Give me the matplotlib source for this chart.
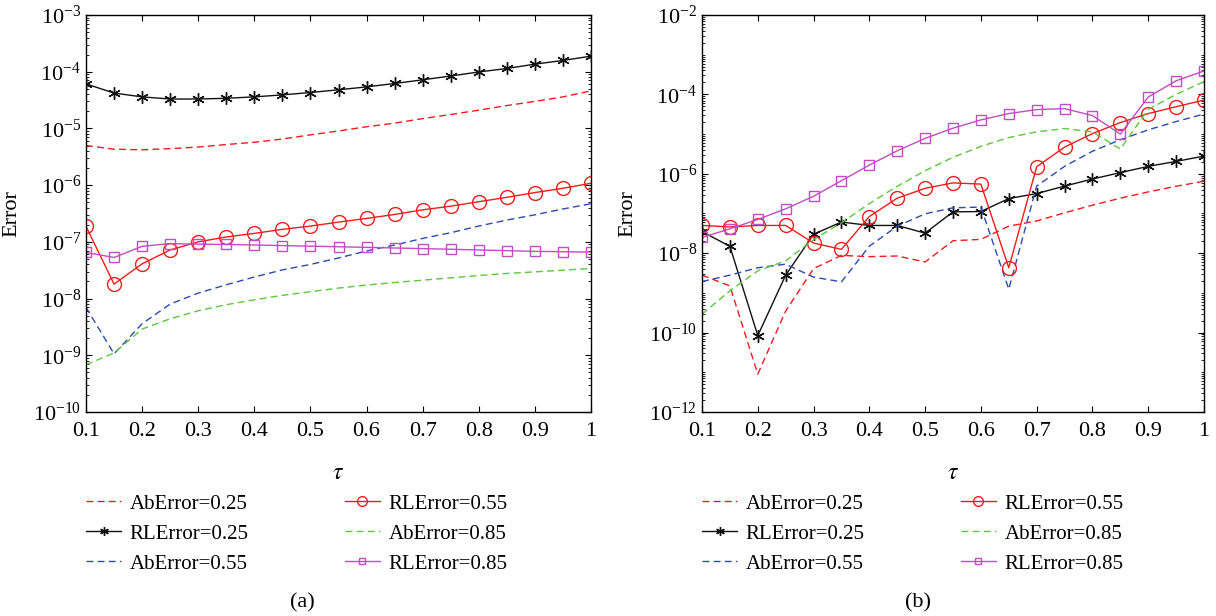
import numpy as np
import matplotlib
matplotlib.use("Agg")
import matplotlib.pyplot as plt
from matplotlib.ticker import LogLocator, NullFormatter

plt.rcParams['font.family'] = ['Liberation Serif', 'DejaVu Serif']
plt.rcParams['mathtext.fontset'] = 'stix'

tau = [0.1, 0.15, 0.2, 0.25, 0.3, 0.35, 0.4, 0.45, 0.5, 0.55,
       0.6, 0.65, 0.7, 0.75, 0.8, 0.85, 0.9, 0.95, 1.0]

# panel (a)
a_ab025 = [5.0e-6, 4.3e-6, 4.2e-6, 4.4e-6, 4.7e-6, 5.2e-6, 5.7e-6, 6.5e-6, 7.7e-6, 9.0e-6,
           1.07e-5, 1.24e-5, 1.49e-5, 1.76e-5, 2.1e-5, 2.53e-5, 3.0e-5, 3.6e-5, 4.6e-5]
a_rl025 = [6.1e-5, 4.2e-5, 3.6e-5, 3.3e-5, 3.3e-5, 3.4e-5, 3.6e-5, 3.9e-5, 4.3e-5, 4.8e-5,
           5.4e-5, 6.2e-5, 7.2e-5, 8.4e-5, 9.9e-5, 1.14e-4, 1.36e-4, 1.58e-4, 1.88e-4]
a_ab055 = [7.0e-9, 1.06e-9, 3.6e-9, 8.0e-9, 1.25e-8, 1.75e-8, 2.4e-8, 3.2e-8, 4.0e-8, 5.2e-8,
           6.9e-8, 8.8e-8, 1.15e-7, 1.45e-7, 1.9e-7, 2.42e-7, 3.0e-7, 3.8e-7, 4.7e-7]
a_rl055 = [1.88e-7, 1.8e-8, 4.1e-8, 7.2e-8, 1.0e-7, 1.22e-7, 1.41e-7, 1.66e-7, 1.9e-7, 2.23e-7,
           2.59e-7, 3.04e-7, 3.67e-7, 4.26e-7, 5.1e-7, 6.1e-7, 7.4e-7, 8.8e-7, 1.08e-6]
a_ab085 = [6.8e-10, 1.1e-9, 2.9e-9, 4.4e-9, 6.1e-9, 7.8e-9, 9.5e-9, 1.14e-8, 1.32e-8, 1.53e-8,
           1.73e-8, 1.92e-8, 2.11e-8, 2.32e-8, 2.55e-8, 2.77e-8, 2.96e-8, 3.16e-8, 3.4e-8]
a_rl085 = [6.5e-8, 5.3e-8, 8.35e-8, 9.3e-8, 9.1e-8, 9.0e-8, 8.8e-8, 8.6e-8, 8.4e-8, 8.2e-8,
           8.0e-8, 7.8e-8, 7.6e-8, 7.4e-8, 7.2e-8, 7.0e-8, 6.8e-8, 6.7e-8, 6.6e-8]

# panel (b)
b_ab025 = [2.8e-9, 1.5e-9, 9e-12, 3.5e-10, 4.1e-9, 8.8e-9, 8.2e-9, 8.5e-9, 6.0e-9, 2.06e-8,
           2.23e-8, 4.8e-8, 6.5e-8, 1.04e-7, 1.62e-7, 2.43e-7, 3.5e-7, 4.85e-7, 6.5e-7]
b_rl025 = [3.5e-8, 1.49e-8, 8.4e-11, 2.8e-9, 3.0e-8, 6.1e-8, 5.0e-8, 5.0e-8, 3.2e-8, 1.1e-7,
           1.12e-7, 2.38e-7, 3.18e-7, 4.9e-7, 7.4e-7, 1.07e-6, 1.54e-6, 2.05e-6, 2.8e-6]
b_ab055 = [1.93e-9, 2.8e-9, 4.3e-9, 5.3e-9, 2.5e-9, 1.9e-9, 1.5e-8, 4.8e-8, 9.8e-8, 1.39e-7,
           1.45e-7, 1.24e-9, 4.9e-7, 1.54e-6, 3.7e-6, 7.2e-6, 1.28e-5, 2.07e-5, 3.2e-5]
b_rl055 = [5.0e-8, 4.6e-8, 5.0e-8, 5.0e-8, 1.8e-8, 1.25e-8, 8.4e-8, 2.43e-7, 4.3e-7, 5.9e-7,
           5.5e-7, 4.3e-9, 1.51e-6, 4.7e-6, 1.03e-5, 1.95e-5, 3.29e-5, 4.9e-5, 7.2e-5]
b_ab085 = [2.9e-10, 1.13e-9, 3.6e-9, 6.4e-9, 2.2e-8, 5.8e-8, 1.78e-7, 4.85e-7, 1.2e-6, 2.6e-6,
           4.9e-6, 8.2e-6, 1.14e-5, 1.38e-5, 1.14e-5, 4.2e-6, 4.2e-5, 1.0e-4, 2.1e-4]
b_rl085 = [2.5e-8, 4.1e-8, 7.1e-8, 1.31e-7, 2.72e-7, 6.7e-7, 1.66e-6, 3.8e-6, 7.8e-6, 1.41e-5,
           2.28e-5, 3.29e-5, 4.14e-5, 4.39e-5, 2.93e-5, 1.0e-5, 8.6e-5, 2.2e-4, 3.9e-4]

labels = ['AbError=0.25', 'RLError=0.25', 'AbError=0.55',
          'RLError=0.55', 'AbError=0.85', 'RLError=0.85']

RED = '#f01c1c'
BLUE = '#2a4bb0'
GREEN = '#5cc83a'
MAG = '#c24cc2'
ASTER = (6, 2, 0)  # matlab-like asterisk


def draw(ax, ab025, rl025, ab055, rl055, ab085, rl085, ylim, major_step):
    dash = (5, 3)
    ax.plot(tau, ab025, color=RED, lw=1, dashes=dash)
    ax.plot(tau, rl025, color='#111111', lw=1, marker=ASTER, ms=9, mew=1)
    ax.plot(tau, ab055, color=BLUE, lw=1, dashes=dash)
    ax.plot(tau, rl055, color=RED, lw=1, marker='o', ms=10, mfc='none', mew=1)
    ax.plot(tau, ab085, color=GREEN, lw=1, dashes=dash)
    ax.plot(tau, rl085, color=MAG, lw=1, marker='s', ms=7, mfc='none', mew=1)
    ax.set_yscale('log')
    ax.set_xlim(0.1, 1.0)
    ax.set_ylim(*ylim)
    ax.set_xticks(np.arange(0.1, 1.01, 0.1))
    ax.set_xticklabels(['0.1', '0.2', '0.3', '0.4', '0.5', '0.6', '0.7', '0.8', '0.9', '1'])
    ax.yaxis.set_major_locator(LogLocator(base=10 ** major_step, numticks=20))
    if major_step == 1:
        ax.yaxis.set_minor_locator(LogLocator(base=10, subs=np.arange(2, 10), numticks=50))
    else:
        ax.yaxis.set_minor_locator(LogLocator(base=10, subs=np.arange(1, 10), numticks=50))
    ax.yaxis.set_minor_formatter(NullFormatter())
    ax.tick_params(which='both', direction='in', top=True, right=True, labelsize=16)
    ax.tick_params(axis='x', pad=7)
    ax.tick_params(which='major', length=4)
    ax.tick_params(which='minor', length=2)
    for s in ax.spines.values():
        s.set_linewidth(1)
    ax.set_ylabel('Error', fontsize=16)
    ax.set_xlabel(r'$\tau$', fontsize=17)
    ax.yaxis.set_label_coords(-0.128, 0.5)
    ax.xaxis.set_label_coords(0.5, -0.128)


fig = plt.figure(figsize=(12.16, 6.16), dpi=100)
ax1 = fig.add_axes([86 / 1216, 1 - 412 / 616, 505 / 1216, 397 / 616])
ax2 = fig.add_axes([702 / 1216, 1 - 412 / 616, 502 / 1216, 397 / 616])

draw(ax1, a_ab025, a_rl025, a_ab055, a_rl055, a_ab085, a_rl085, (1e-10, 1e-3), 1)
draw(ax2, b_ab025, b_rl025, b_ab055, b_rl055, b_ab085, b_rl085, (1e-12, 1e-2), 2)

for ax, x0, cap, cx in [(ax1, 86, '(a)', 302), (ax2, 702, '(b)', 918)]:
    ax.legend(ax.get_lines(), labels, ncol=2, frameon=False, fontsize=15,
              loc='upper left', bbox_to_anchor=(x0 / 1216, 1 - 494 / 616),
              bbox_transform=fig.transFigure, borderaxespad=0, borderpad=0,
              handlelength=1.7, handletextpad=0.4, columnspacing=4.6,
              labelspacing=0.5, markerscale=0.7)
    fig.text(cx / 1216, 1 - 603 / 616, cap, ha='center', va='center', fontsize=16)

fig.savefig('out.png', dpi=100)
